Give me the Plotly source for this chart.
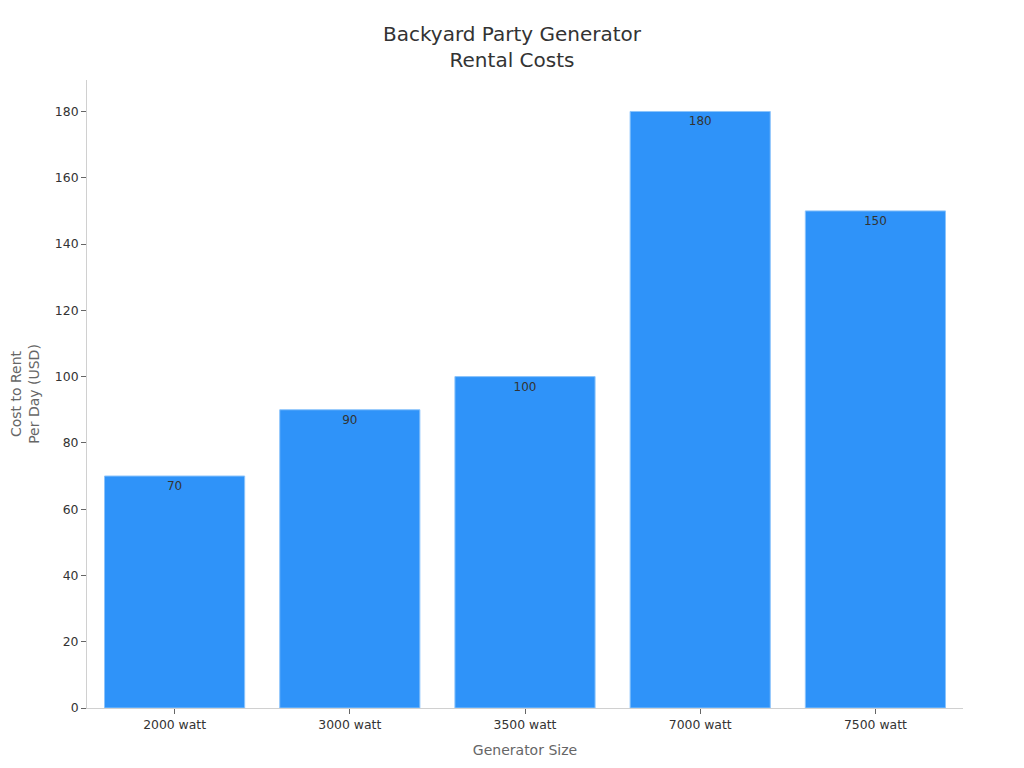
import plotly.graph_objects as go

categories = ["2000 watt", "3000 watt", "3500 watt", "7000 watt", "7500 watt"]
costs = [70, 90, 100, 180, 150]

fig = go.Figure(
    go.Bar(
        x=categories,
        y=costs,
        text=[str(v) for v in costs],
        textposition="inside",
        insidetextanchor="end",
        textfont=dict(color="#333333", size=12),
        marker=dict(color="#2F93F9", line=dict(color="#8CC4FB", width=1)),
    )
)

fig.update_layout(
    width=1024,
    height=768,
    font=dict(family="DejaVu Sans", color="#333333"),
    title=dict(
        text="Backyard Party Generator<br>Rental Costs",
        x=0.4922,
        xanchor="center",
        y=0.9565,
        yanchor="top",
        font=dict(size=20, color="#333333"),
    ),
    plot_bgcolor="white",
    paper_bgcolor="white",
    margin=dict(l=79, r=69, t=72, b=68),
    bargap=0.2,
    showlegend=False,
    xaxis=dict(
        title=dict(text="Generator Size", font=dict(size=14, color="#666666"), standoff=14),
        showline=True,
        linecolor="#d0d0d0",
        ticks="outside",
        tickcolor="#666666",
        ticklen=5,
        tickfont=dict(size=12.4, color="#333333"),
        showgrid=False,
    ),
    yaxis=dict(
        title=dict(text="Cost to Rent<br>Per Day (USD)", font=dict(size=14, color="#666666"), standoff=19),
        automargin=False,
        range=[0, 189.5],
        dtick=20,
        showline=True,
        linecolor="#d0d0d0",
        ticks="outside",
        tickcolor="#666666",
        ticklen=5,
        tickfont=dict(size=12.4, color="#333333"),
        showgrid=False,
        zeroline=False,
    ),
)

fig.write_html("out.html")
